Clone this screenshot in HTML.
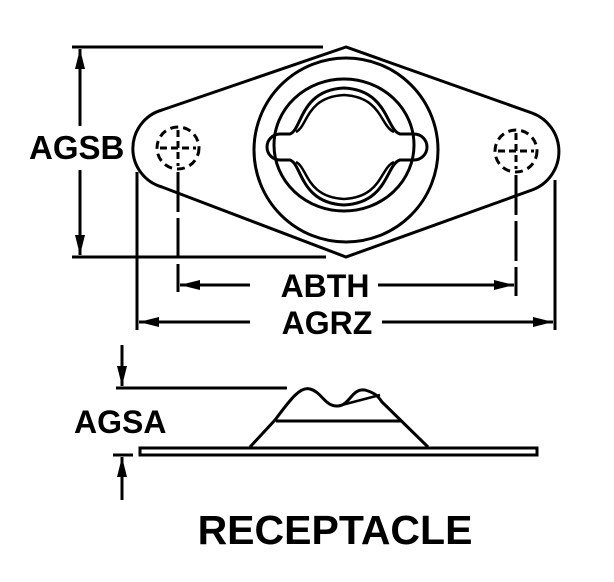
<!DOCTYPE html>
<html><head><style>
html,body{margin:0;padding:0;background:#fff;}
svg{display:block}
text{font-family:"Liberation Sans",Arial,sans-serif;font-weight:bold;fill:#000}
</style></head><body>
<svg width="614" height="582" viewBox="0 0 614 582" xmlns="http://www.w3.org/2000/svg">
<defs>
<marker id="a" viewBox="0 0 20 10" refX="20" refY="5" markerWidth="22" markerHeight="10" markerUnits="userSpaceOnUse" orient="auto"><path d="M0,0 L20,5 L0,10 Z" fill="#000"/></marker>
</defs>
<g fill="none" stroke="#000" stroke-width="3">
<path d="M346,47 L162,110 A40,40 0 0 0 162,187 L346,257 L532,190 A41,41 0 0 0 532,113 Z"/>
<circle cx="346" cy="150" r="92"/>
<ellipse cx="344" cy="145" rx="70" ry="66"/>
<path d="M290,134 C302,130 300,90 344,88 C388,90 386,130 400,134 L414,134 A13,13 0 0 1 414,160 L400,160 C386,164 388,203 344,205 C300,203 302,164 290,160 L280,160 A13,13 0 0 1 280,134 Z"/>
<path d="M296,132 C308,126 306,97 344,95 C382,97 380,126 394,132" stroke-width="2.5"/>
<path d="M296,162 C308,168 306,197 344,199 C382,197 380,168 394,162" stroke-width="2.5"/>
<circle cx="178" cy="148" r="21" stroke-dasharray="8,5"/>
<circle cx="516" cy="151" r="21" stroke-dasharray="8,5"/>
<path d="M178,130 V166 M160,148 H196 M516,133 V169 M498,151 H534" stroke-dasharray="7,4"/>
<path d="M72,47 H323 M72,257 H326"/>
<path d="M80,126 V49" marker-end="url(#a)"/>
<path d="M80,170 V255" marker-end="url(#a)"/>
<path d="M137,172 V330 M555,180 V330"/>
<path d="M178,172 V292 M516,175 V296" stroke-dasharray="40,6"/>
<path d="M250,285 H180" marker-end="url(#a)"/>
<path d="M378,285 H514" marker-end="url(#a)"/>
<path d="M250,322 H139" marker-end="url(#a)"/>
<path d="M382,322 H553" marker-end="url(#a)"/>
<path d="M116,388 H287"/>
<path d="M122,345 V386" marker-end="url(#a)"/>
<path d="M113,455 H133"/>
<path d="M122,500 V457" marker-end="url(#a)"/>
<rect x="140" y="448" width="397" height="7"/>
<path d="M250,447 L275,420 C290,400 300,386 310,389 C322,392 325,407 338,406 C350,405 352,388 365,390 C375,393 378,396 382,402 L428,447"/>
<path d="M276,421 H402"/>
<path d="M338,406 L380,395" stroke-width="2.5"/>
</g>
<text x="29" y="159" font-size="33">AGSB</text>
<text x="325" y="297" font-size="32" text-anchor="middle">ABTH</text>
<text x="327" y="334" font-size="32" text-anchor="middle">AGRZ</text>
<text x="74" y="433" font-size="32">AGSA</text>
<text x="335" y="544" font-size="41" text-anchor="middle">RECEPTACLE</text>
</svg>
</body></html>
